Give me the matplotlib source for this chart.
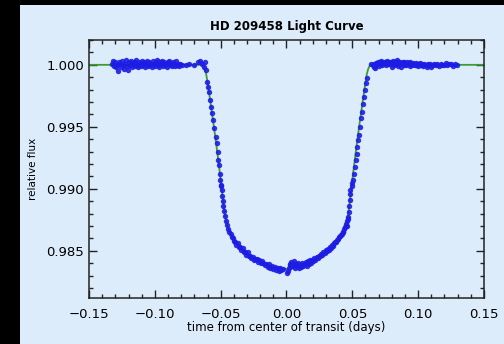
import numpy as np
import matplotlib
matplotlib.use('Agg')
import matplotlib.pyplot as plt
from matplotlib.patches import Rectangle
from matplotlib.ticker import MultipleLocator

# Out-of-transit points before ingress (time in days, relative flux)
pre = np.array([
    (-0.1328, 1.0001), (-0.1320, 1.0003), (-0.1313, 0.9999), (-0.1305, 1.0002), (-0.1297, 0.9998),
    (-0.1290, 1.0000), (-0.1282, 0.9995), (-0.1275, 1.0002), (-0.1267, 1.0001), (-0.1259, 0.9998),
    (-0.1252, 1.0003), (-0.1244, 1.0000), (-0.1237, 0.9997), (-0.1229, 1.0001), (-0.1221, 1.0004),
    (-0.1214, 0.9999), (-0.1206, 0.9996), (-0.1199, 1.0002), (-0.1191, 1.0000), (-0.1183, 1.0003),
    (-0.1176, 0.9998), (-0.1168, 1.0001), (-0.1161, 1.0002), (-0.1153, 0.9999), (-0.1145, 1.0004),
    (-0.1138, 1.0000), (-0.1130, 0.9998), (-0.1123, 1.0002), (-0.1115, 1.0001), (-0.1107, 0.9999),
    (-0.1100, 1.0003), (-0.1092, 1.0000), (-0.1085, 1.0002), (-0.1077, 0.9998), (-0.1069, 1.0001),
    (-0.1062, 1.0003), (-0.1054, 0.9999), (-0.1047, 1.0002), (-0.1039, 1.0000), (-0.1031, 1.0001),
    (-0.1024, 0.9998), (-0.1016, 1.0003), (-0.1009, 1.0001), (-0.1001, 0.9999), (-0.0993, 1.0002),
    (-0.0986, 1.0004), (-0.0978, 1.0000), (-0.0971, 0.9998), (-0.0963, 1.0002), (-0.0955, 1.0001),
    (-0.0948, 1.0003), (-0.0940, 0.9999), (-0.0933, 1.0002), (-0.0925, 1.0000), (-0.0917, 1.0001),
    (-0.0910, 0.9998), (-0.0902, 1.0002), (-0.0895, 1.0003), (-0.0887, 1.0000), (-0.0879, 1.0001),
    (-0.0872, 0.9999), (-0.0864, 1.0002), (-0.0857, 1.0001), (-0.0849, 0.9999), (-0.0841, 1.0003),
    (-0.0834, 1.0000), (-0.0826, 1.0001), (-0.0818, 0.9999), (-0.0810, 1.0001), (-0.0790, 1.0000),
    (-0.0765, 1.0000), (-0.0740, 1.0001), (-0.0700, 1.0000), (-0.0672, 1.0002), (-0.0655, 1.0003),
    (-0.0641, 1.0001),
])

# In-transit points
transit = np.array([
    (-0.0630, 0.99985), (-0.0618, 1.00020), (-0.0611, 0.99960), (-0.0602, 0.99865), (-0.0595, 0.99820),
    (-0.0589, 0.99784), (-0.0581, 0.99716), (-0.0574, 0.99660), (-0.0564, 0.99610), (-0.0556, 0.99554),
    (-0.0549, 0.99490), (-0.0538, 0.99417), (-0.0530, 0.99368), (-0.0523, 0.99295), (-0.0518, 0.99230),
    (-0.0510, 0.99190), (-0.0507, 0.99120), (-0.0505, 0.99068), (-0.0501, 0.99020), (-0.0496, 0.99030),
    (-0.0492, 0.98987), (-0.0489, 0.98945), (-0.0485, 0.98906), (-0.0481, 0.98865), (-0.0475, 0.98825),
    (-0.0469, 0.98785), (-0.0460, 0.98744), (-0.0452, 0.98710), (-0.0442, 0.98679), (-0.0433, 0.98655),
    (-0.0424, 0.98639), (-0.0415, 0.98610), (-0.0405, 0.98600), (-0.0398, 0.98580), (-0.0391, 0.98568),
    (-0.0382, 0.98545), (-0.0372, 0.98560), (-0.0363, 0.98530), (-0.0353, 0.98528), (-0.0344, 0.98505),
    (-0.0334, 0.98520), (-0.0325, 0.98490), (-0.0315, 0.98487), (-0.0306, 0.98470), (-0.0296, 0.98492),
    (-0.0287, 0.98455), (-0.0277, 0.98460), (-0.0268, 0.98440), (-0.0258, 0.98452), (-0.0248, 0.98425),
    (-0.0237, 0.98438), (-0.0226, 0.98434), (-0.0216, 0.98410), (-0.0206, 0.98428), (-0.0196, 0.98400),
    (-0.0186, 0.98415), (-0.0176, 0.98406), (-0.0166, 0.98385), (-0.0155, 0.98398), (-0.0144, 0.98370),
    (-0.0133, 0.98392), (-0.0122, 0.98365), (-0.0112, 0.98379), (-0.0101, 0.98355), (-0.0090, 0.98372),
    (-0.0079, 0.98345), (-0.0068, 0.98360), (-0.0058, 0.98338), (-0.0049, 0.98360), (-0.0038, 0.98342),
    (-0.0025, 0.98350), (0.0006, 0.98318), (0.0012, 0.98335), (0.0018, 0.98360), (0.0024, 0.98385),
    (0.0030, 0.98398), (0.0036, 0.98410), (0.0042, 0.98375), (0.0048, 0.98395), (0.0055, 0.98418),
    (0.0062, 0.98365), (0.0069, 0.98392), (0.0077, 0.98379), (0.0084, 0.98405), (0.0092, 0.98360),
    (0.0100, 0.98390), (0.0108, 0.98370), (0.0116, 0.98402), (0.0124, 0.98375), (0.0132, 0.98395),
    (0.0140, 0.98393), (0.0148, 0.98410), (0.0156, 0.98380), (0.0164, 0.98415), (0.0172, 0.98398),
    (0.0180, 0.98425), (0.0188, 0.98405), (0.0196, 0.98430), (0.0204, 0.98420), (0.0212, 0.98440),
    (0.0220, 0.98425), (0.0228, 0.98450), (0.0236, 0.98440), (0.0245, 0.98462), (0.0254, 0.98460),
    (0.0263, 0.98475), (0.0272, 0.98468), (0.0281, 0.98490), (0.0290, 0.98482), (0.0298, 0.98505),
    (0.0305, 0.98501), (0.0313, 0.98515), (0.0322, 0.98510), (0.0330, 0.98530), (0.0338, 0.98525),
    (0.0346, 0.98545), (0.0355, 0.98541), (0.0363, 0.98560), (0.0371, 0.98568), (0.0379, 0.98575),
    (0.0386, 0.98590), (0.0393, 0.98596), (0.0400, 0.98610), (0.0407, 0.98618), (0.0414, 0.98630),
    (0.0421, 0.98640), (0.0426, 0.98655), (0.0431, 0.98649), (0.0437, 0.98675), (0.0443, 0.98690),
    (0.0449, 0.98698), (0.0453, 0.98720), (0.0457, 0.98703), (0.0461, 0.98740), (0.0465, 0.98760),
    (0.0469, 0.98771), (0.0473, 0.98815), (0.0477, 0.98865), (0.0480, 0.98910), (0.0482, 0.98960),
    (0.0486, 0.98990), (0.0495, 0.99020), (0.0501, 0.99045), (0.0507, 0.99068), (0.0513, 0.99122),
    (0.0520, 0.99176), (0.0526, 0.99230), (0.0533, 0.99284), (0.0538, 0.99338), (0.0545, 0.99392),
    (0.0551, 0.99433), (0.0558, 0.99500), (0.0564, 0.99568), (0.0571, 0.99622), (0.0579, 0.99682),
    (0.0589, 0.99743), (0.0596, 0.99797), (0.0604, 0.99852), (0.0614, 0.99892), (0.0640, 1.00010),
])

# Out-of-transit points after egress
post = np.array([
    (0.0655, 0.99995), (0.0662, 0.99980), (0.0668, 1.00010), (0.0675, 0.99975), (0.0681, 1.00015),
    (0.0688, 1.00005), (0.0694, 1.00025), (0.0701, 0.99990), (0.0707, 1.00020), (0.0714, 1.00010),
    (0.0720, 1.00030), (0.0727, 1.00000), (0.0733, 1.00020), (0.0740, 1.00015), (0.0746, 1.00025),
    (0.0753, 0.99995), (0.0759, 1.00020), (0.0766, 1.00030), (0.0772, 1.00005), (0.0779, 1.00020),
    (0.0785, 1.00010), (0.0792, 1.00025), (0.0798, 0.99985), (0.0805, 1.00015), (0.0811, 1.00030),
    (0.0818, 1.00000), (0.0824, 1.00020), (0.0831, 1.00010), (0.0837, 1.00035), (0.0844, 0.99990),
    (0.0850, 1.00020), (0.0857, 1.00005), (0.0863, 1.00025), (0.0870, 0.99980), (0.0876, 1.00015),
    (0.0883, 1.00020), (0.0889, 1.00000), (0.0896, 1.00025), (0.0902, 1.00010), (0.0909, 0.99995),
    (0.0915, 1.00020), (0.0922, 1.00005), (0.0928, 1.00015), (0.0935, 0.99990), (0.0941, 1.00020),
    (0.0948, 1.00010), (0.0954, 1.00000), (0.0961, 1.00015), (0.0967, 1.00005), (0.0974, 0.99995),
    (0.0980, 1.00015), (0.0987, 1.00000), (0.0993, 1.00010), (0.1000, 0.99990), (0.1008, 1.00005),
    (0.1016, 1.00015), (0.1024, 0.99995), (0.1032, 1.00005), (0.1040, 0.99990), (0.1048, 1.00010),
    (0.1056, 1.00000), (0.1064, 0.99985), (0.1072, 1.00005), (0.1080, 0.99995), (0.1090, 1.00010),
    (0.1100, 0.99985), (0.1110, 1.00000), (0.1120, 1.00010), (0.1132, 0.99995), (0.1145, 1.00005),
    (0.1158, 0.99990), (0.1170, 1.00010), (0.1182, 0.99995), (0.1195, 1.00000), (0.1208, 1.00015),
    (0.1220, 0.99995), (0.1235, 1.00005), (0.1250, 1.00010), (0.1265, 0.99990), (0.1280, 1.00005),
    (0.1292, 1.00000),
])

# Transit model curve (green line)
model_time = [-0.150, -0.0640, -0.0630, -0.0620, -0.0610, -0.0600, -0.0590, -0.0580, -0.0570,
              -0.0560, -0.0550, -0.0540, -0.0530, -0.0520, -0.0510, -0.0500, -0.0490, -0.0480,
              -0.0470, -0.0460, -0.0450, -0.0440, -0.0420, -0.0400, -0.0370, -0.0340, -0.0300,
              -0.0260, -0.0220, -0.0180, -0.0140, -0.0100, -0.0060, -0.0030, 0.0000,
              0.0030, 0.0060, 0.0100, 0.0140, 0.0180, 0.0220, 0.0260, 0.0300, 0.0340, 0.0370,
              0.0400, 0.0420, 0.0440, 0.0450, 0.0460, 0.0470, 0.0480, 0.0490, 0.0500, 0.0510,
              0.0520, 0.0530, 0.0540, 0.0550, 0.0560, 0.0570, 0.0580, 0.0590, 0.0600, 0.0610,
              0.0620, 0.0630, 0.0640, 0.150]
model_flux = [1.0000, 1.0000, 0.99990, 0.99965, 0.99925, 0.99860, 0.99790, 0.99715, 0.99640,
              0.99565, 0.99490, 0.99410, 0.99330, 0.99245, 0.99160, 0.99070, 0.98980, 0.98890,
              0.98810, 0.98745, 0.98705, 0.98675, 0.98635, 0.98595, 0.98550, 0.98515, 0.98478,
              0.98448, 0.98422, 0.98402, 0.98385, 0.98370, 0.98360, 0.98355, 0.98353,
              0.98355, 0.98360, 0.98370, 0.98385, 0.98402, 0.98422, 0.98448, 0.98478, 0.98515, 0.98550,
              0.98595, 0.98635, 0.98675, 0.98705, 0.98745, 0.98810, 0.98890, 0.98980, 0.99070, 0.99160,
              0.99245, 0.99330, 0.99410, 0.99490, 0.99565, 0.99640, 0.99715, 0.99790, 0.99860, 0.99925,
              0.99965, 0.99990, 1.0000, 1.0000]

x_ticks = [-0.15, -0.10, -0.05, 0.00, 0.05, 0.10, 0.15]
y_ticks = [0.985, 0.990, 0.995, 1.000]

panel = '#ddecfb'
fig = plt.figure(figsize=(5.04, 3.44), dpi=100, facecolor='black')
fig.add_artist(Rectangle((0.0397, 0.0), 0.9603, 0.9855, transform=fig.transFigure,
                         facecolor=panel, edgecolor='none', zorder=-10))

ax = fig.add_axes([0.1766, 0.1337, 0.7837, 0.75], zorder=5)
ax.set_facecolor(panel)

ax.plot(model_time, model_flux, color='#3c9c32', lw=1.3, zorder=2)
for seg in (pre, transit, post):
    ax.plot(seg[:, 0], seg[:, 1], 'o', ms=3.9, mew=0, color='#1c1ce4', alpha=0.9, zorder=3)

ax.set_xlim(-0.15, 0.15)
ax.set_ylim(0.9812, 1.002)
ax.set_xticks(x_ticks)
ax.set_xticklabels(['\u22120.15', '\u22120.10', '\u22120.05', '0.00', '0.05', '0.10', '0.15'])
ax.set_yticks(y_ticks)
ax.set_yticklabels(['0.985', '0.990', '0.995', '1.000'])
ax.xaxis.set_minor_locator(MultipleLocator(0.01))
ax.yaxis.set_minor_locator(MultipleLocator(0.001))
ax.tick_params(which='both', direction='in', top=True, right=True, width=1.0, color='#222222')
ax.tick_params(which='major', length=5.5)
ax.tick_params(which='minor', length=3.0)
ax.tick_params(axis='x', labelsize=9.5, pad=7)
ax.tick_params(axis='y', labelsize=9.5, pad=3.5)
for s in ax.spines.values():
    s.set_linewidth(1.1)
    s.set_color('#222222')

ax.set_xlabel('time from center of transit (days)', fontsize=8.5, labelpad=0)
ax.set_ylabel('relative flux', fontsize=7.5, labelpad=6)
ax.set_title('HD 209458 Light Curve', fontsize=8.5, fontweight='bold', family='DejaVu Sans', pad=7)

fig.savefig('out.png', dpi=100, facecolor=fig.get_facecolor())
